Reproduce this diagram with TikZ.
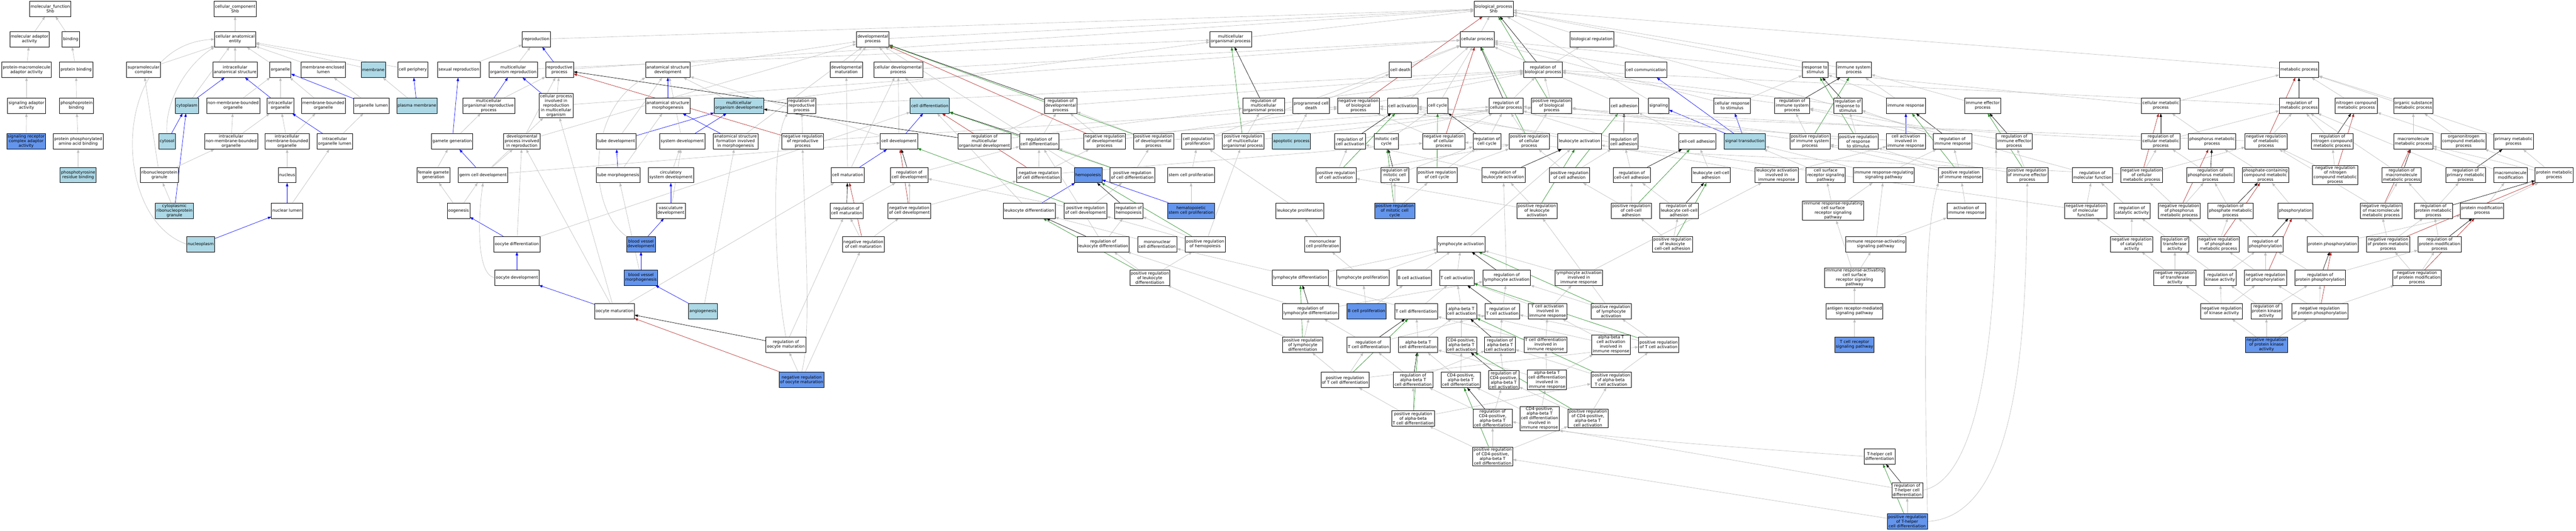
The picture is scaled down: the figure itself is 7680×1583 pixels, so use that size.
\documentclass[tikz,border=0pt]{standalone}
\usepackage{fontspec}
\setmainfont{DejaVu Sans}
\usetikzlibrary{arrows.meta}
\definecolor{egc}{RGB}{190,190,190}
\definecolor{lbc}{RGB}{173,216,230}
\definecolor{dbc}{RGB}{100,149,237}
\definecolor{fgc}{RGB}{34,139,34}
\definecolor{frc}{RGB}{178,34,34}
\pgfdeclarelayer{back}
\pgfdeclarelayer{edges}
\pgfsetlayers{back,edges,main}
\tikzset{
 gonode/.style={draw=black,line width=1pt,fill=white,align=center,minimum height=46pt,inner xsep=3pt,inner ysep=2.5pt,font=\fontsize{12.2}{13.8}\selectfont},
 lbn/.style={gonode,fill=lbc},
 dbn/.style={gonode,fill=dbc},
 edgebase/.style={line width=1pt,-{Triangle[length=10pt,width=7.5pt]}},
 ge/.style={edgebase,egc},
 be/.style={edgebase,blue},
 ke/.style={edgebase,black},
 ne/.style={edgebase,fgc},
 re/.style={edgebase,frc}
}
\newcommand\nd[5][gonode]{\node[#1] (#2) at (#3,#4) {#5};}
\newcommand\eG[2]{\foreach \q in {#2}{\draw[ge] (#1) -- (\q);}}
\newcommand\eB[2]{\foreach \q in {#2}{\draw[be] (#1) -- (\q);}}
\newcommand\eK[2]{\foreach \q in {#2}{\draw[ke] (#1) -- (\q);}}
\newcommand\eN[2]{\foreach \q in {#2}{\draw[ne] (#1) -- (\q);}}
\newcommand\eR[2]{\foreach \q in {#2}{\draw[re] (#1) -- (\q);}}
\begin{document}
\begin{tikzpicture}[x=1pt,y=-1pt]
\useasboundingbox (0,0) rectangle (7680,1583);
\begin{pgfonlayer}{back}\fill[white] (0,0) rectangle (7680,1583);\end{pgfonlayer}
% ---------------- molecular function
\nd{mf}{150}{26}{molecular\_function\\Shb}
\nd{mfadapt}{88}{117}{molecular adaptor\\activity}
\nd{binding}{211}{117}{binding}
\nd{pmaa}{79}{208}{protein-macromolecule\\adaptor activity}
\nd{protbind}{227}{208}{protein binding}
\nd{sigadapt}{79}{315}{signaling adaptor\\activity}
\nd{phosphobind}{228}{315}{phosphoprotein\\binding}
\nd[dbn]{srcaa}{78}{422}{signaling receptor\\complex adaptor\\activity}
\nd{ppaab}{233}{422}{protein phosphorylated\\amino acid binding}
\nd[lbn]{ptyr}{233}{522}{phosphotyrosine\\residue binding}
% ---------------- cellular component
\nd{cc}{701}{26}{cellular\_component\\Shb}
\nd{cae}{701}{117}{cellular anatomical\\entity}
\nd{supra}{428}{208}{supramolecular\\complex}
\nd{ias}{701}{208}{intracellular\\anatomical structure}
\nd{organelle}{836}{208}{organelle}
\nd{mel}{964}{208}{membrane-enclosed\\lumen}
\nd[lbn]{membrane}{1113}{208}{membrane}
\nd{cellper}{1231}{208}{cell periphery}
\nd[lbn]{cytoplasm}{557}{315}{cytoplasm}
\nd{nmbo}{695}{315}{non-membrane-bounded\\organelle}
\nd{io}{836}{315}{intracellular\\organelle}
\nd{mbo}{964}{315}{membrane-bounded\\organelle}
\nd{olumen}{1107}{315}{organelle lumen}
\nd[lbn]{pm}{1243}{315}{plasma membrane}
\nd[lbn]{cytosol}{498}{422}{cytosol}
\nd{inmbo}{689}{422}{intracellular\\non-membrane-bounded\\organelle}
\nd{imbo}{856}{422}{intracellular\\membrane-bounded\\organelle}
\nd{iol}{998}{422}{intracellular\\organelle lumen}
\nd{rnpg}{475}{522}{ribonucleoprotein\\granule}
\nd{nucleus}{856}{522}{nucleus}
\nd[lbn]{crnpg}{520}{628}{cytoplasmic\\ribonucleoprotein\\granule}
\nd{nlumen}{856}{628}{nuclear lumen}
\nd[lbn]{nucleoplasm}{598}{728}{nucleoplasm}
% ---------------- reproduction / development
\nd{sexrep}{1368}{208}{sexual reproduction}
\nd{mor}{1530}{208}{multicellular\\organism reproduction}
\nd{reproduction}{1599}{117}{reproduction}
\nd{mrp}{1457}{315}{multicellular\\organismal reproductive\\process}
\nd{gametegen}{1348}{422}{gamete generation}
\nd{dpir}{1556}{422}{developmental\\process involved\\in reproduction}
\nd{fgg}{1292}{522}{female gamete\\generation}
\nd{gcd}{1440}{522}{germ cell development}
\nd{oogenesis}{1367}{628}{oogenesis}
\nd{oocytediff}{1541}{728}{oocyte differentiation}
\nd{oocytedev}{1541}{828}{oocyte development}
\nd{reprocess}{1668}{208}{reproductive\\process}
\nd{cpirmo}{1658}{315}{cellular process\\involved in\\reproduction\\in multicellular\\organism}
\nd{asd}{1991}{208}{anatomical structure\\development}
\nd{devproc}{2602}{117}{developmental\\process}
\nd{devmat}{2523}{208}{developmental\\maturation}
\nd{cdp}{2678}{208}{cellular developmental\\process}
\nd{asm}{1991}{315}{anatomical structure\\morphogenesis}
\nd[lbn]{mod}{2203}{315}{multicellular\\organism development}
\nd{rrp}{2390}{315}{regulation of\\reproductive\\process}
\nd[lbn]{celldiff}{2772}{315}{cell differentiation}
\nd{tubedev}{1837}{422}{tube development}
\nd{sysdev}{2034}{422}{system development}
\nd{asfim}{2193}{422}{anatomical structure\\formation involved\\in morphogenesis}
\nd{nrrp}{2393}{422}{negative regulation\\of reproductive\\process}
\nd{celldev}{2680}{422}{cell development}
\nd{rmod}{2935}{422}{regulation of\\multicellular\\organismal development}
\nd{rcdiff}{3098}{422}{regulation of\\cell differentiation}
\nd{tubemorph}{1843}{522}{tube morphogenesis}
\nd{csd}{2000}{522}{circulatory\\system development}
\nd{cellmat}{2527}{522}{cell maturation}
\nd{rcdev}{2711}{522}{regulation of\\cell development}
\nd{nrcd}{3097}{522}{negative regulation\\of cell differentiation}
\nd{vascdev}{2000}{628}{vasculature\\development}
\nd{rcm}{2524}{628}{regulation of\\cell maturation}
\nd{nrcdev}{2711}{628}{negative regulation\\of cell development}
\nd{leukdiff}{3068}{628}{leukocyte differentiation}
\nd[dbn]{bvd}{1911}{728}{blood vessel\\development}
\nd{nrcm}{2574}{728}{negative regulation\\of cell maturation}
\nd[dbn]{bvm}{1911}{828}{blood vessel\\morphogenesis}
\nd{oocytemat}{1832}{928}{oocyte maturation}
\nd[lbn]{angio}{2096}{928}{angiogenesis}
\nd{rom}{2343}{1028}{regulation of\\oocyte maturation}
\nd[dbn]{nrom}{2390}{1133}{negative regulation\\of oocyte maturation}
% ---------------- central biological process
\nd{bp}{4453}{26}{biological\_process\\Shb}
\nd{multorg}{3669}{117}{multicellular\\organismal process}
\nd{cellproc}{4404}{117}{cellular process}
\nd{celldeath}{4175}{208}{cell death}
\nd{rbp}{4600}{208}{regulation of\\biological process}
\nd{rdp}{3162}{315}{regulation of\\developmental\\process}
\nd{rmop}{3767}{315}{regulation of\\multicellular\\organismal process}
\nd{pcd}{3909}{315}{programmed cell\\death}
\nd{nrbp}{4050}{315}{negative regulation\\of biological\\process}
\nd{cellact}{4182}{315}{cell activation}
\nd{cellcycle}{4286}{315}{cell cycle}
\nd{rcp}{4490}{315}{regulation of\\cellular process}
\nd{prbp}{4626}{315}{positive regulation\\of biological\\process}
\nd{nrdp}{3293}{422}{negative regulation\\of developmental\\process}
\nd{prdp}{3439}{422}{positive regulation\\of developmental\\process}
\nd{cpp}{3571}{422}{cell population\\proliferation}
\nd{prmop}{3706}{422}{positive regulation\\of multicellular\\organismal process}
\nd[lbn]{apoptotic}{3850}{422}{apoptotic process}
\nd{rca}{4025}{422}{regulation of\\cell activation}
\nd{mitcc}{4133}{422}{mitotic cell\\cycle}
\nd{nrcp}{4304}{422}{negative regulation\\of cellular\\process}
\nd{rcc}{4433}{422}{regulation of\\cell cycle}
\nd{prcp}{4559}{422}{positive regulation\\of cellular\\process}
\nd{leukact}{4709}{422}{leukocyte activation}
\nd[dbn]{hemopoiesis}{3244}{522}{hemopoiesis}
\nd{prcdiff}{3376}{522}{positive regulation\\of cell differentiation}
\nd{scp}{3551}{522}{stem cell proliferation}
\nd{prca}{3983}{522}{positive regulation\\of cell activation}
\nd{rmcc}{4158}{522}{regulation of\\mitotic cell\\cycle}
\nd{prccycle}{4284}{522}{positive regulation\\of cell cycle}
\nd{rla}{4482}{522}{regulation of\\leukocyte activation}
\nd{prcadh}{4679}{522}{positive regulation\\of cell adhesion}
\nd{prcdev}{3236}{628}{positive regulation\\of cell development}
\nd{rhemo}{3365}{628}{regulation of\\hemopoiesis}
\nd[dbn]{hscp}{3551}{628}{hematopoietic\\stem cell proliferation}
\nd{leukprolif}{3875}{628}{leukocyte proliferation}
\nd[dbn]{prmcc}{4158}{628}{positive regulation\\of mitotic cell\\cycle}
\nd{prla}{4582}{628}{positive regulation\\of leukocyte\\activation}
\nd{rld}{3289}{728}{regulation of\\leukocyte differentiation}
\nd{mcd}{3450}{728}{mononuclear\\cell differentiation}
\nd{prhemo}{3593}{728}{positive regulation\\of hemopoiesis}
\nd{mcp}{3943}{728}{mononuclear\\cell proliferation}
\nd{lymphact}{4356}{728}{lymphocyte activation}
\nd{prld}{3428}{828}{positive regulation\\of leukocyte\\differentiation}
\nd{lymphdiff}{3876}{828}{lymphocyte differentiation}
\nd{lymphprolif}{4063}{828}{lymphocyte proliferation}
\nd{bcellact}{4216}{828}{B cell activation}
\nd{tcellact}{4343}{828}{T cell activation}
\nd{rlymphact}{4492}{828}{regulation of\\lymphocyte activation}
\nd{laiir}{4707}{828}{lymphocyte activation\\involved in\\immune response}
\nd{rlymphdiff}{3907}{928}{regulation of\\lymphocyte differentiation}
\nd[dbn]{bcellprolif}{4074}{928}{B cell proliferation}
\nd{tcelldiff}{4222}{928}{T cell differentiation}
\nd{abtca}{4357}{928}{alpha-beta T\\cell activation}
\nd{rtca}{4479}{928}{regulation of\\T cell activation}
\nd{tcaiir}{4614}{928}{T cell activation\\involved in\\immune response}
\nd{prlymphact}{4803}{928}{positive regulation\\of lymphocyte\\activation}
\nd{prlymphdiff}{3884}{1028}{positive regulation\\of lymphocyte\\differentiation}
\nd{rtcd}{4080}{1028}{regulation of\\T cell differentiation}
\nd{abtcd}{4228}{1028}{alpha-beta T\\cell differentiation}
\nd{cd4abtca}{4357}{1028}{CD4-positive,\\alpha-beta T\\cell activation}
\nd{rabtca}{4472}{1028}{regulation of\\alpha-beta T\\cell activation}
\nd{tcdiir}{4608}{1028}{T cell differentiation\\involved in\\immune response}
\nd{abtcaiir}{4803}{1028}{alpha-beta T\\cell activation\\involved in\\immune response}
\nd{prtca}{4945}{1028}{positive regulation\\of T cell activation}
\nd{prtcd}{4010}{1133}{positive regulation\\of T cell differentiation}
\nd{rabtcd}{4213}{1133}{regulation of\\alpha-beta T\\cell differentiation}
\nd{cd4abtcd}{4355}{1133}{CD4-positive,\\alpha-beta T\\cell differentiation}
\nd{rcd4abtca}{4483}{1133}{regulation of\\CD4-positive,\\alpha-beta T\\cell activation}
\nd{abtcdiir}{4612}{1133}{alpha-beta T\\cell differentiation\\involved in\\immune response}
\nd{prabtca}{4803}{1133}{positive regulation\\of alpha-beta\\T cell activation}
\nd{prabtcd}{4213}{1248}{positive regulation\\of alpha-beta\\T cell differentiation}
\nd{rcd4abtcd}{4450}{1248}{regulation of\\CD4-positive,\\alpha-beta T\\cell differentiation}
\nd{cd4abtcdiir}{4590}{1248}{CD4-positive,\\alpha-beta T\\cell differentiation\\involved in\\immune response}
\nd{prcd4abtca}{4734}{1248}{positive regulation\\of CD4-positive,\\alpha-beta T\\cell activation}
\nd{prcd4abtcd}{4450}{1361}{positive regulation\\of CD4-positive,\\alpha-beta T\\cell differentiation}
% ---------------- regulation / immune / signaling
\nd{bioreg}{4746}{117}{biological regulation}
\nd{cellcomm}{4907}{208}{cell communication}
\nd{rts}{5412}{208}{response to\\stimulus}
\nd{isp}{5527}{208}{immune system\\process}
\nd{celladh}{4842}{315}{cell adhesion}
\nd{signaling}{4945}{315}{signaling}
\nd{crts}{5164}{315}{cellular response\\to stimulus}
\nd{risp}{5343}{315}{regulation of\\immune system\\process}
\nd{rrts}{5509}{315}{regulation of\\response to\\stimulus}
\nd{immresp}{5682}{315}{immune response}
\nd{iep}{5911}{315}{immune effector\\process}
\nd{rcadh}{4841}{422}{regulation of\\cell adhesion}
\nd{ccadh}{5060}{422}{cell-cell adhesion}
\nd[lbn]{sigtrans}{5202}{422}{signal transduction}
\nd{prisp}{5396}{422}{positive regulation\\of immune system\\process}
\nd{prrts}{5540}{422}{positive regulation\\of response\\to stimulus}
\nd{caiir}{5682}{422}{cell activation\\involved in\\immune response}
\nd{rir}{5821}{422}{regulation of\\immune response}
\nd{riep}{6005}{422}{regulation of\\immune effector\\process}
\nd{rccadh}{4865}{522}{regulation of\\cell-cell adhesion}
\nd{lccadh}{5101}{522}{leukocyte cell-cell\\adhesion}
\nd{laiir2}{5297}{522}{leukocyte activation\\involved in\\immune response}
\nd{csrsp}{5443}{522}{cell surface\\receptor signaling\\pathway}
\nd{irrsp}{5616}{522}{immune response-regulating\\signaling pathway}
\nd{prir}{5845}{522}{positive regulation\\of immune response}
\nd{priep}{6044}{522}{positive regulation\\of immune effector\\process}
\nd{prccadh}{4863}{628}{positive regulation\\of cell-cell\\adhesion}
\nd{rlccadh}{5006}{628}{regulation of\\leukocyte cell-cell\\adhesion}
\nd{irrcsrsp}{5465}{628}{immune response-regulating\\cell surface\\receptor signaling\\pathway}
\nd{actir}{5862}{628}{activation of\\immune response}
\nd{prlccadh}{4986}{728}{positive regulation\\of leukocyte\\cell-cell adhesion}
\nd{irasp}{5592}{728}{immune response-activating\\signaling pathway}
\nd{irascsrsp}{5529}{828}{immune response-activating\\cell surface\\receptor signaling\\pathway}
\nd{armsp}{5529}{928}{antigen receptor-mediated\\signaling pathway}
\nd[dbn]{tcrsp}{5529}{1028}{T cell receptor\\signaling pathway}
\nd{thcd}{5604}{1361}{T-helper cell\\differentiation}
\nd{rthcd}{5686}{1462}{regulation of\\T-helper cell\\differentiation}
\nd[dbn]{prthcd}{5686}{1555}{positive regulation\\of T-helper\\cell differentiation}
% ---------------- metabolism
\nd{metab}{6854}{208}{metabolic process}
\nd{cmp}{6442}{315}{cellular metabolic\\process}
\nd{rmp}{6854}{315}{regulation of\\metabolic process}
\nd{ncmp}{7025}{315}{nitrogen compound\\metabolic process}
\nd{osmp}{7195}{315}{organic substance\\metabolic process}
\nd{rcmp}{6442}{422}{regulation of\\cellular metabolic\\process}
\nd{phosmp}{6595}{422}{phosphorus metabolic\\process}
\nd{nrmp}{6756}{422}{negative regulation\\of metabolic\\process}
\nd{rncmp}{6953}{422}{regulation of\\nitrogen compound\\metabolic process}
\nd{mmp}{7195}{422}{macromolecule\\metabolic process}
\nd{oncmp}{7345}{422}{organonitrogen\\compound metabolic\\process}
\nd{pmp}{7494}{422}{primary metabolic\\process}
\nd{rmf}{6238}{522}{regulation of\\molecular function}
\nd{nrcmp}{6385}{522}{negative regulation\\of cellular\\metabolic process}
\nd{rphosmp}{6590}{522}{regulation of\\phosphorus metabolic\\process}
\nd{pcmp}{6754}{522}{phosphate-containing\\compound metabolic\\process}
\nd{nrncmp}{6962}{522}{negative regulation\\of nitrogen\\compound metabolic\\process}
\nd{rmmp}{7160}{522}{regulation of\\macromolecule\\metabolic process}
\nd{rpmp}{7351}{522}{regulation of\\primary metabolic\\process}
\nd{mmod}{7485}{522}{macromolecule\\modification}
\nd{protmp}{7615}{522}{protein metabolic\\process}
\nd{nrmf}{6218}{628}{negative regulation\\of molecular\\function}
\nd{rcatact}{6356}{628}{regulation of\\catalytic activity}
\nd{nrphosmp}{6497}{628}{negative regulation\\of phosphorus\\metabolic process}
\nd{rphmp}{6650}{628}{regulation of\\phosphate metabolic\\process}
\nd{phosph}{6843}{628}{phosphorylation}
\nd{nrmmp}{7099}{628}{negative regulation\\of macromolecule\\metabolic process}
\nd{rprotmp}{7255}{628}{regulation of\\protein metabolic\\process}
\nd{pmodp}{7400}{628}{protein modification\\process}
\nd{nrcatact}{6355}{728}{negative regulation\\of catalytic\\activity}
\nd{rtransact}{6484}{728}{regulation of\\transferase\\activity}
\nd{nrphmp}{6614}{728}{negative regulation\\of phosphate\\metabolic process}
\nd{rphos}{6754}{728}{regulation of\\phosphorylation}
\nd{protphos}{6954}{728}{protein phosphorylation}
\nd{nrprotmp}{7120}{728}{negative regulation\\of protein metabolic\\process}
\nd{rpmodp}{7273}{728}{regulation of\\protein modification\\process}
\nd{nrtransact}{6484}{828}{negative regulation\\of transferase\\activity}
\nd{rkinact}{6619}{828}{regulation of\\kinase activity}
\nd{nrphos}{6754}{828}{negative regulation\\of phosphorylation}
\nd{rprotphos}{6917}{828}{regulation of\\protein phosphorylation}
\nd{nrpmodp}{7206}{828}{negative regulation\\of protein modification\\process}
\nd{nrkinact}{6623}{928}{negative regulation\\of kinase activity}
\nd{rpkact}{6757}{928}{regulation of\\protein kinase\\activity}
\nd{nrprotphos}{6916}{928}{negative regulation\\of protein phosphorylation}
\nd[dbn]{nrpkact}{6757}{1028}{negative regulation\\of protein kinase\\activity}
% ================= edges
\begin{pgfonlayer}{edges}
% MF
\eG{mfadapt}{mf}\eG{binding}{mf}\eG{pmaa}{mfadapt}\eG{protbind}{binding}\eG{sigadapt}{pmaa}
\eG{phosphobind}{protbind}\eG{srcaa}{sigadapt}\eG{ppaab}{phosphobind}\eG{ptyr}{ppaab}
% CC
\eG{cae}{cc}\eG{supra}{cae}\eG{ias}{cae}\eG{organelle}{cae}\eG{mel}{cae}\eG{membrane}{cae}\eG{cellper}{cae}\eG{cytoplasm}{cae}
\draw[ge] (cytosol.north) .. controls (490,300) and (560,190) .. (cae.south west);
\draw[ge] (nucleoplasm.west) .. controls (330,650) and (330,135) .. (cae.west);
\eB{cytoplasm}{ias}\eB{io}{ias}\eG{nmbo}{organelle}\eG{io}{organelle}\eG{mbo}{organelle}\eB{olumen}{organelle}
\eG{olumen}{mel}\eG{pm}{membrane}\eB{pm}{cellper}\eB{cytosol}{cytoplasm}\eB{crnpg}{cytoplasm}
\eG{inmbo}{nmbo,io}\eG{imbo}{io,mbo}\eB{iol}{io}\eG{iol}{olumen}\eG{rnpg}{supra,inmbo}\eG{crnpg}{rnpg}
\eG{nucleus}{imbo}\eB{nlumen}{nucleus}\eG{nlumen}{iol}\eB{nucleoplasm}{nlumen}
% reproduction
\eG{reproduction}{bp}\eG{sexrep}{reproduction}\eG{mor}{reproduction,multorg}\eB{reprocess}{reproduction}\eG{reprocess}{bp}
\eB{mrp}{mor}\eG{mrp}{reprocess}\eB{cpirmo}{mor}\eG{cpirmo}{reprocess,cellproc}\eB{gametegen}{sexrep}\eG{gametegen}{mrp}
\eG{dpir}{reprocess,devproc}\eG{fgg}{gametegen}\eB{gcd}{gametegen}\eG{gcd}{dpir,celldev,cpirmo}\eG{oogenesis}{fgg,gcd}
\eB{oocytediff}{oogenesis}\eG{oocytediff}{dpir,celldiff}\eB{oocytedev}{oocytediff}
\draw[ge] (oocytedev.west) .. controls (1420,820) and (1425,650) .. (gcd.south);
\eB{oocytemat}{oocytedev}\eG{oocytemat}{cellmat,dpir,cpirmo}
% development
\eG{devproc}{bp}\eG{asd}{devproc}\eG{devmat}{devproc}\eG{cdp}{devproc,cellproc}\eB{asm}{asd}\eG{mod}{asd,multorg}
\eK{rrp}{reprocess}\eG{rrp}{rbp}\eG{celldiff}{cdp}\eG{tubedev}{asd}\eB{tubedev}{mod}\eG{sysdev}{asd}\eB{sysdev}{mod}
\eB{asfim}{asm}\eG{asfim}{devproc}\eG{nrrp}{rrp,nrbp}\eR{nrrp}{reprocess}\eG{celldev}{cdp,asd}\eB{celldev}{celldiff}
\eK{rmod}{mod}\eG{rmod}{rmop,rdp}\eK{rcdiff}{celldiff}\eG{rcdiff}{rdp,rcp}\eB{tubemorph}{tubedev}\eG{tubemorph}{asm}
\eG{csd}{sysdev}\eG{cellmat}{devmat,cdp}\eB{cellmat}{celldev}\eK{rcdev}{celldev}\eG{rcdev}{rcdiff}
\eR{nrcd}{celldiff}\eG{nrcd}{rcdiff,nrdp,nrcp}\eB{vascdev}{csd}\eG{vascdev}{sysdev}\eK{rcm}{cellmat}\eG{rcm}{rcdev}
\eG{nrcdev}{rcdev,nrcd}\eR{nrcdev}{celldev}\eG{leukdiff}{celldiff}\eB{leukdiff}{hemopoiesis}\eB{bvd}{vascdev}
\draw[ge] (bvd.north west) .. controls (1750,620) and (1750,330) .. (asd.south west);
\eG{nrcm}{rcm,nrcdev}\eR{nrcm}{cellmat}\eB{bvm}{bvd}\eG{bvm}{tubemorph}\eB{angio}{bvm}\eG{angio}{asfim}
\eK{rom}{oocytemat}\eG{rom}{rcm}
\draw[ge] (rom.north) .. controls (2305,800) and (2300,420) .. (rrp.south west);
\eG{nrom}{rom,nrcm}\eR{nrom}{oocytemat}
\draw[ge] (nrom.north) .. controls (2420,1000) and (2400,700) .. (nrrp.south);
% general regulation
\eG{multorg}{bp}\eG{cellproc}{bp}\eG{celldeath}{cellproc}\eK{rbp}{bp}\eG{rbp}{bioreg}\eK{rdp}{devproc}\eG{rdp}{rbp}
\eK{rmop}{multorg}\eG{rmop}{rbp}\eG{pcd}{celldeath}\eR{nrbp}{bp}\eG{nrbp}{rbp}\eG{cellact}{cellproc}\eG{cellcycle}{cellproc}
\eK{rcp}{cellproc}\eG{rcp}{rbp}\eN{prbp}{bp}\eG{prbp}{rbp}\eG{nrdp}{rdp,nrbp}\eR{nrdp}{devproc}\eG{prdp}{rdp,prbp}\eN{prdp}{devproc}
\eG{cpp}{cellproc}\eN{prmop}{multorg}\eG{prmop}{rmop,prbp}\eG{apoptotic}{pcd}\eK{rca}{cellact}\eG{rca}{rcp}\eG{mitcc}{cellcycle}
\eR{nrcp}{cellproc}\eG{nrcp}{rcp,nrbp}\eK{rcc}{cellcycle}\eG{rcc}{rcp}\eN{prcp}{cellproc}\eG{prcp}{rcp,prbp}\eG{leukact}{cellact}
\eG{hemopoiesis}{devproc}
\eG{prcdiff}{rcdiff,prdp}\eN{prcdiff}{celldiff}\eG{scp}{cpp}\eN{prca}{cellact}\eG{prca}{rca,prcp}\eK{rmcc}{mitcc}\eG{rmcc}{rcc}
\eN{prccycle}{cellcycle}\eG{prccycle}{rcc,prcp}\eK{rla}{leukact}\eG{rla}{rca}\eN{prcadh}{celladh}\eG{prcadh}{rcadh,prcp}
\eN{prcdev}{celldev}\eG{prcdev}{rcdev,prcdiff}\eK{rhemo}{hemopoiesis}\eG{hscp}{scp}\eB{hscp}{hemopoiesis}\eG{leukprolif}{cpp}
\eG{prmcc}{rmcc,prccycle}\eN{prmcc}{mitcc}\eG{prla}{rla,prca}\eN{prla}{leukact}\eK{rld}{leukdiff}\eG{rld}{rhemo,rcdiff}
\eG{mcd}{leukdiff}\eN{prhemo}{hemopoiesis}\eG{prhemo}{rhemo,prmop,prcdev}\eG{mcp}{leukprolif}\eG{lymphact}{leukact}
\eG{prld}{rld,prhemo}\eN{prld}{leukdiff}\eG{lymphdiff}{mcd,lymphact}\eG{lymphprolif}{lymphact,mcp}\eG{bcellact}{lymphact}
\eG{tcellact}{lymphact}\eK{rlymphact}{lymphact}\eG{rlymphact}{rla}\eG{laiir}{lymphact,laiir2}\eK{rlymphdiff}{lymphdiff}
\eG{rlymphdiff}{rld,rlymphact}\eG{bcellprolif}{lymphprolif,bcellact}\eG{tcelldiff}{lymphdiff,tcellact}\eG{abtca}{tcellact}
\eK{rtca}{tcellact}\eG{rtca}{rlymphact}\eG{tcaiir}{tcellact,laiir}\eG{prlymphact}{rlymphact,prla}\eN{prlymphact}{lymphact}
\eG{prlymphdiff}{rlymphdiff,prld}\eN{prlymphdiff}{lymphdiff}\eK{rtcd}{tcelldiff}\eG{rtcd}{rlymphdiff,rtca}\eG{abtcd}{tcelldiff,abtca}
\eG{cd4abtca}{abtca}\eK{rabtca}{abtca}\eG{rabtca}{rtca}\eG{tcdiir}{tcelldiff,tcaiir}\eG{abtcaiir}{abtca,tcaiir}
\eG{prtca}{rtca,prlymphact}\eN{prtca}{tcellact}\eN{prtcd}{tcelldiff}\eG{prtcd}{rtcd,prlymphdiff,prtca}\eK{rabtcd}{abtcd}\eG{rabtcd}{rtcd,rabtca}
\eG{cd4abtcd}{abtcd,cd4abtca}\eK{rcd4abtca}{cd4abtca}\eG{rcd4abtca}{rabtca}\eG{abtcdiir}{abtcd,tcdiir,abtcaiir}
\eG{prabtca}{rabtca,prtca}\eN{prabtca}{abtca}\eG{prabtcd}{rabtcd,prtcd,prabtca}\eN{prabtcd}{abtcd}\eK{rcd4abtcd}{cd4abtcd}
\eG{rcd4abtcd}{rabtcd,rcd4abtca}\eG{cd4abtcdiir}{cd4abtcd,abtcdiir}\eG{prcd4abtca}{rcd4abtca,prabtca}\eN{prcd4abtca}{cd4abtca}
\eG{prcd4abtcd}{rcd4abtcd,prabtcd,prcd4abtca}\eN{prcd4abtcd}{cd4abtcd}
% immune / signaling
\eG{bioreg}{bp}\eG{cellcomm}{cellproc}\eG{rts}{bp}\eG{isp}{bp}\eG{celladh}{cellproc}\eG{signaling}{bp}\eG{crts}{rts,cellproc}
\eK{risp}{isp}\eG{risp}{rbp}\eK{rrts}{rts}\eG{rrts}{rbp}\eG{immresp}{isp,rts}\eG{iep}{isp}\eK{rcadh}{celladh}\eG{rcadh}{rcp}
\eG{ccadh}{celladh}\eB{sigtrans}{cellcomm,signaling,crts}\eN{prisp}{isp}\eG{prisp}{risp,prbp}\eN{prrts}{rts}\eG{prrts}{rrts,prbp}
\eB{caiir}{immresp}\eG{caiir}{cellact}\eK{rir}{immresp}\eG{rir}{risp,rrts}\eK{riep}{iep}\eG{riep}{risp}\eK{rccadh}{ccadh}
\eG{rccadh}{rcadh}\eG{lccadh}{ccadh}\eG{laiir2}{leukact,caiir}\eG{csrsp}{sigtrans}\eG{irrsp}{sigtrans,rir}\eN{prir}{immresp}
\eG{prir}{rir,prisp,prrts}\eN{priep}{iep}\eG{priep}{riep,prisp}\eN{prccadh}{ccadh}\eG{prccadh}{rccadh,prcadh}\eK{rlccadh}{lccadh}
\eG{rlccadh}{rccadh}\eG{irrcsrsp}{csrsp,irrsp}\eG{actir}{prir}\eN{prlccadh}{lccadh}\eG{prlccadh}{prccadh,rlccadh}
\eG{irasp}{irrsp,actir}\eG{irascsrsp}{irasp,irrcsrsp}\eG{armsp}{irascsrsp}\eG{tcrsp}{armsp}
\draw[ge] (thcd.west) .. controls (5100,1330) and (4760,1300) .. (cd4abtcdiir.south east);
\eK{rthcd}{thcd}\eG{rthcd}{rcd4abtcd}
\draw[ge] (rthcd.east) .. controls (5960,1420) and (5955,650) .. (riep.south west);
\eN{prthcd}{thcd}\eG{prthcd}{rthcd,prcd4abtcd}
\draw[ge] (prthcd.north east) .. controls (5740,1200) and (5730,700) .. (prir.south west);
\draw[ge] (prthcd.east) .. controls (6040,1540) and (6040,900) .. (priep.south);
% metabolism
\eG{metab}{bp}\eG{cmp}{metab,cellproc}\eK{rmp}{metab}\eG{rmp}{rbp}\eG{ncmp}{metab}\eG{osmp}{metab}\eG{pmp}{metab}
\eK{rcmp}{cmp}\eG{rcmp}{rmp,rcp}\eG{phosmp}{cmp}\eR{nrmp}{metab}\eG{nrmp}{rmp,nrbp}\eK{rncmp}{ncmp}\eG{rncmp}{rmp}
\eG{mmp}{osmp}\eG{oncmp}{osmp,ncmp}\eG{rmf}{bioreg}\eR{nrcmp}{cmp}\eG{nrcmp}{rcmp,nrmp,nrcp}\eK{rphosmp}{phosmp}
\eG{rphosmp}{rcmp}\eG{pcmp}{phosmp}\eR{nrncmp}{ncmp}\eG{nrncmp}{rncmp,nrmp}\eK{rmmp}{mmp}\eG{rmmp}{rmp}\eK{rpmp}{pmp}
\eG{rpmp}{rmp}\eG{mmod}{mmp}\eG{protmp}{mmp,oncmp,pmp}\eG{nrmf}{rmf,nrbp}\eG{rcatact}{rmf}\eR{nrphosmp}{phosmp}
\eG{nrphosmp}{rphosmp,nrcmp}\eK{rphmp}{pcmp}\eG{rphmp}{rphosmp}\eG{phosph}{pcmp}\eR{nrmmp}{mmp}\eG{nrmmp}{rmmp,nrmp}
\eK{rprotmp}{protmp}\eG{rprotmp}{rmmp,rpmp}\eG{pmodp}{mmod,protmp}\eG{nrcatact}{nrmf,rcatact}\eG{rtransact}{rcatact}
\eR{nrphmp}{pcmp}\eG{nrphmp}{rphmp,nrphosmp}\eK{rphos}{phosph}\eG{rphos}{rphmp}\eG{protphos}{phosph,pmodp}
\eR{nrprotmp}{protmp}\eG{nrprotmp}{rprotmp,nrmmp}\eK{rpmodp}{pmodp}\eG{rpmodp}{rprotmp}\eG{nrtransact}{rtransact,nrcatact}
\eG{rkinact}{rtransact,rphos}\eR{nrphos}{phosph}\eG{nrphos}{rphos,nrphmp}\eK{rprotphos}{protphos}\eG{rprotphos}{rphos,rpmodp}
\eR{nrpmodp}{pmodp}\eG{nrpmodp}{rpmodp,nrprotmp}\eG{nrkinact}{rkinact,nrtransact,nrphos}\eG{rpkact}{rkinact,rprotphos}
\eR{nrprotphos}{protphos}\eG{nrprotphos}{rprotphos,nrphos,nrpmodp}\eG{nrpkact}{nrkinact,rpkact,nrprotphos}
\end{pgfonlayer}
\end{tikzpicture}
\end{document}
